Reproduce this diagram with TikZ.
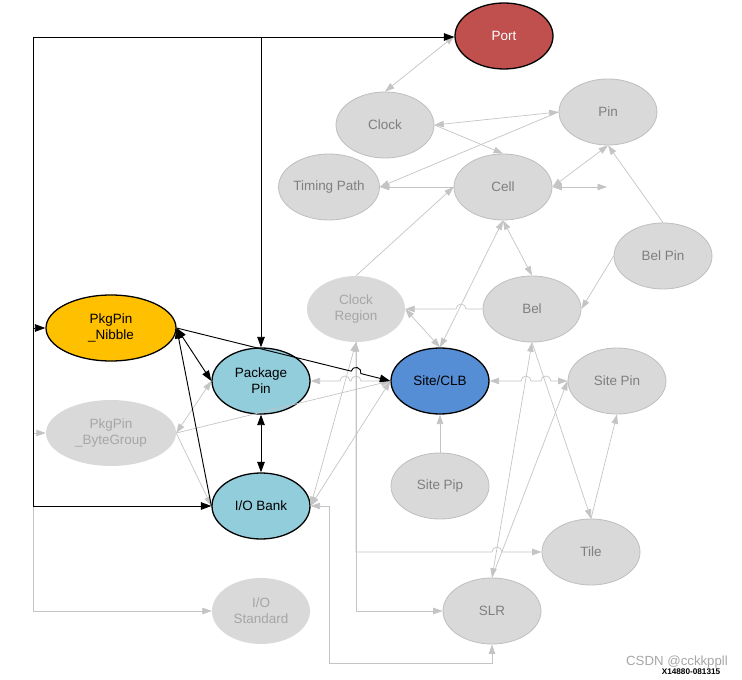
\documentclass[tikz,border=0pt]{standalone}
\usepackage{fontspec}
\setmainfont{Liberation Sans}
\usetikzlibrary{arrows.meta,shapes.geometric}

\definecolor{portred}{HTML}{C0504D}
\definecolor{nibbleorange}{HTML}{FFC000}
\definecolor{pkgblue}{HTML}{92CDDC}
\definecolor{siteblue}{HTML}{558ED5}
\definecolor{nodegray}{HTML}{D9D9D9}
\definecolor{rimgray}{HTML}{BFBFBF}
\definecolor{txtgray}{HTML}{7F7F7F}
\definecolor{faintgray}{HTML}{A6A6A6}
\definecolor{linegray}{HTML}{C4C4C4}

\begin{document}
\begin{tikzpicture}[
    ent/.style={ellipse, minimum width=2.94cm, minimum height=1.98cm, inner sep=0pt, align=center, font=\fontsize{11.5}{13.6}\selectfont},
    key/.style={ent, fill=#1, draw=black, line width=1.1pt},
    other/.style={ent, fill=nodegray, draw=rimgray, line width=0.7pt, text=txtgray},
    faint/.style={ent, fill=nodegray, text=faintgray},
    wide/.style={minimum width=3.9cm},
    blk/.style={line width=0.8pt, >={Triangle[length=9pt,width=6.5pt]}},
    gry/.style={draw=linegray, line width=0.6pt, >={Triangle[length=8pt,width=5.5pt]}}
]
    \useasboundingbox (0,0) rectangle (22.26,20.37);

    % netlist side
    \node[key=portred, text=white] (port) at (15.12,19.29) {Port};
    \node[other] (clock) at (11.55,16.62) {Clock};
    \node[other] (pin) at (18.24,17.01) {Pin};
    \node[other] (timing) at (9.87,14.76) {Timing Path};
    \node[other] (cell) at (15.09,14.76) {Cell};
    \node[other] (belpin) at (19.89,12.69) {Bel Pin};
    \node[faint] (clkregion) at (10.68,11.10) {Clock\\Region};
    \node[other] (bel) at (15.96,11.10) {Bel};

    % package / device side
    \node[key=nibbleorange, wide] (nibble) at (3.33,10.53) {PkgPin\\\_Nibble};
    \node[key=pkgblue] (pkgpin) at (7.83,8.94) {Package\\Pin};
    \node[key=siteblue] (site) at (13.20,8.94) {Site/CLB};
    \node[other] (sitepin) at (18.51,8.94) {Site Pin};
    \node[faint, wide] (bytegroup) at (3.33,7.38) {PkgPin\\\_ByteGroup};
    \node[other] (sitepip) at (13.20,5.79) {Site Pip};
    \node[key=pkgblue] (iobank) at (7.83,5.19) {I/O Bank};
    \node[other] (tile) at (17.73,3.81) {Tile};
    \node[other] (slr) at (14.76,2.04) {SLR};
    \node[faint] (iostd) at (7.83,2.04) {I/O\\Standard};

    \coordinate (busTop) at (0.99,19.26);
    \coordinate (busBot) at (0.99,5.19);
    \coordinate (cellOut) at (18.21,14.76);
    \coordinate (slrLoop) at (9.87,0.48);

    % gray relations
    \draw[gry,<->] (port.west) -- (clock.north);
    \draw[gry,<->] (clock.east) -- (pin.west);
    \draw[gry,->] (clock.east) -- (cell.north);
    \draw[gry,->] (pin.west) -- (timing.east);
    \draw[gry,->] (cell.west) -- (timing.east);
    \draw[gry,<->] (cell.east) -- (pin.south);
    \draw[gry,<->] (cell.east) -- (cellOut);
    \draw[gry,->] (clkregion.north) -- (cell.west);
    \draw[gry,->] (belpin.north) -- (pin.south);
    \draw[gry,->] (belpin.west) -- (bel.east);
    \draw[gry,<->] (cell.south) -- (bel.north);
    \draw[gry,->] (bel.west) -- (13.98,11.10) arc[start angle=0, end angle=180, radius=0.15] -- (clkregion.east);
    \draw[gry,<->] (site.north) -- (cell.south);
    \draw[gry,<->] (clkregion.east) -- (site.north);
    \draw[gry,<->] (site.west) -- (10.83,8.94) arc[start angle=0, end angle=180, radius=0.15]
        -- (10.50,8.94) arc[start angle=0, end angle=180, radius=0.15] -- (pkgpin.east);
    \draw[gry,<->] (pkgpin.west) -- (bytegroup.east);
    \draw[gry,->] (bytegroup.east) -- (site.west);
    \draw[gry,->] (bytegroup.east) -- (iobank.west);
    \draw[gry,<->] (clkregion.south) -- (iobank.east);
    \draw[gry,<->] (site.west) -- (iobank.east);
    \draw[gry,<->] (site.east) -- (15.63,8.94) arc[start angle=180, end angle=0, radius=0.15]
        -- (16.23,8.94) arc[start angle=180, end angle=0, radius=0.15] -- (sitepin.west);
    \draw[gry,->] (sitepip) -- (site);
    \draw[gry,<->] (bel.south) -- (slr.north);
    \draw[gry,->] (bel.south) -- (tile.north);
    \draw[gry,->] (slr.north) -- (sitepin.west);
    \draw[gry,->] (tile.north) -- (sitepin.south);
    \draw[gry,<->] (clkregion.south) |- (14.76,3.81) arc[start angle=180, end angle=0, radius=0.15] -- (tile.west);
    \draw[gry,->] (clkregion.south) |- (slr.west);
    \draw[gry,<->] (slr.south) |- (slrLoop) |- (iobank.east);
    \draw[gry,->] (busBot) |- (iostd.west);
    \draw[gry,->] (busTop |- bytegroup.west) -- (bytegroup.west);

    % black relations
    \draw[blk,->] (busBot) -- (busTop) -- (busTop -| port.west);
    \draw[blk,->] (busBot) -- (iobank.west);
    \draw[blk,->] (busTop -| pkgpin.north) -- (pkgpin.north);
    \draw[blk,->] (busTop |- nibble.west) -- (nibble.west);
    \draw[blk,<->] (nibble.east) -- (pkgpin.west);
    \draw[blk,<-] (nibble.east) -- (iobank.west);
    \draw[blk,->] (nibble.east) -- (10.534,9.235) arc[start angle=166.15, end angle=-13.85, radius=0.15] -- (site.west);
    \draw[blk,<->] (pkgpin) -- (iobank);

    \node[text=faintgray, font=\fontsize{11.3}{12}\selectfont] (csdn) at (20.31,0.51) {CSDN @cckkppll};
    \node[font=\bfseries\fontsize{7}{8}\selectfont] (figid) at (20.73,0.21) {X14880-081315};
\end{tikzpicture}
\end{document}
